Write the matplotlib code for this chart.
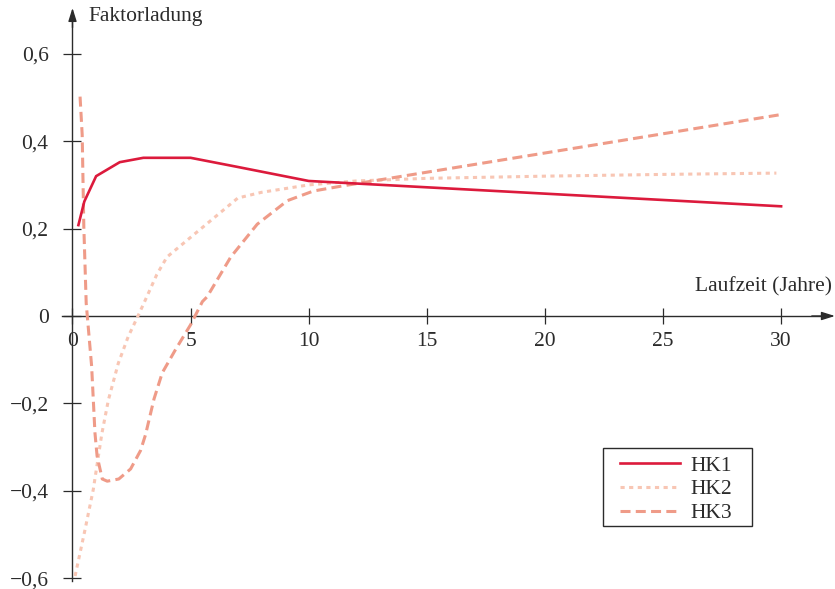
import numpy as np
import matplotlib
matplotlib.use("Agg")
import matplotlib.pyplot as plt
from matplotlib.patches import Rectangle

# ---- data ----
hk1_x = [0.25, 0.5, 1, 2, 3, 5, 7, 10, 30]
hk1_y = [0.208, 0.262, 0.320, 0.352, 0.362, 0.362, 0.341, 0.309, 0.251]

hk2_x = [0.11, 0.53, 0.88, 1.24, 1.52, 1.94, 2.36, 2.79, 3.07, 3.57, 4.0,
         5.0, 6.0, 7.0, 8.0, 10.0, 12.0, 15.0, 20.0, 25.0, 29.8]
hk2_y = [-0.595, -0.489, -0.397, -0.270, -0.192, -0.108, -0.047, 0.002, 0.035,
         0.095, 0.135, 0.180, 0.225, 0.270, 0.283, 0.300, 0.309, 0.315, 0.320,
         0.324, 0.327]

hk3_x = [0.32, 0.41, 0.48, 0.58, 0.81, 0.95, 1.04, 1.26, 1.47, 1.96, 2.46,
         2.88, 3.09, 3.45, 3.8, 4.36, 5.0, 5.5, 5.7, 6.7, 7.82, 9.1, 10.2,
         11.36, 30]
hk3_y = [0.502, 0.415, 0.203, 0.029, -0.115, -0.267, -0.320, -0.373, -0.378,
         -0.373, -0.350, -0.308, -0.272, -0.190, -0.130, -0.077, -0.020, 0.033,
         0.044, 0.135, 0.210, 0.264, 0.286, 0.297, 0.461]

series_labels = ["HK1", "HK2", "HK3"]
x_ticks = [0, 5, 10, 15, 20, 25, 30]
y_ticks = [-0.6, -0.4, -0.2, 0, 0.2, 0.4, 0.6]
x_label = "Laufzeit (Jahre)"
y_label = "Faktorladung"

# ---- style ----
plt.rcParams['font.family'] = ['Liberation Serif', 'DejaVu Serif']
plt.rcParams['lines.scale_dashes'] = False
FS = 15.5
AX_COL = "#2b2b2b"
C1, C2, C3 = "#dc1a3c", "#f8c6b4", "#ef9b88"

W, H = 835, 589
fig = plt.figure(figsize=(W / 100, H / 100), dpi=100)
ax = fig.add_axes([0, 0, 1, 1])

# pixel mapping: x=0 at 72.5px, 23.62 px/yr; y=0 at 316px from top, 437 px/unit
x0px, xs = 72.5, 23.62
y0px, ys = 316.0, 437.0
ax.set_xlim(-x0px / xs, (W - x0px) / xs)
ax.set_ylim(-(H - y0px) / ys, y0px / ys)

ax.plot(hk1_x, hk1_y, color=C1, lw=1.9, solid_joinstyle='miter', label=series_labels[0], zorder=5)
ax.plot(hk2_x, hk2_y, color=C2, lw=2.2, dashes=(3.0, 3.2), label=series_labels[1], zorder=3)
ax.plot(hk3_x, hk3_y, color=C3, lw=2.2, dashes=(7.2, 3.8), label=series_labels[2], zorder=4)

# axes through origin
for s in ['top', 'right']:
    ax.spines[s].set_visible(False)
ax.spines['left'].set_position(('data', 0))
ax.spines['bottom'].set_position(('data', 0))
ax.spines['bottom'].set_bounds(-0.45, 31.8)
ax.spines['left'].set_bounds(-0.607, 0.68)
for s in ['left', 'bottom']:
    ax.spines[s].set_color(AX_COL)
    ax.spines[s].set_linewidth(1.0)

ax.annotate('', xy=(32.28, 0), xytext=(31.3, 0),
            arrowprops=dict(arrowstyle='-|>,head_length=0.8,head_width=0.25',
                            color=AX_COL, lw=1.0, shrinkA=0, shrinkB=0))
ax.annotate('', xy=(0, 0.705), xytext=(0, 0.66),
            arrowprops=dict(arrowstyle='-|>,head_length=0.8,head_width=0.25',
                            color=AX_COL, lw=1.0, shrinkA=0, shrinkB=0))

ax.set_xticks(x_ticks)
ax.set_xticklabels([str(v) for v in x_ticks])
ax.set_yticks(y_ticks)
ax.set_yticklabels([("\u2212" if v < 0 else "") + (f"{abs(v):.1f}".replace(".", ",") if v != 0 else "0")
                    for v in y_ticks])
ax.tick_params(axis='x', direction='inout', length=11, width=0.9, color=AX_COL,
               labelsize=FS, labelcolor=AX_COL, pad=6)
ax.tick_params(axis='y', direction='inout', length=12.5, width=0.9, color=AX_COL,
               labelsize=FS, labelcolor=AX_COL, pad=11)
for lab in ax.get_yticklabels():
    lab.set_clip_on(False)

fig.text(88 / W, 1 - 16 / H, y_label, fontsize=FS, color=AX_COL, ha='left', va='center')
fig.text(832 / W, 1 - 287 / H, x_label, fontsize=FS, color=AX_COL, ha='right', va='center')

# legend
leg = ax.legend(loc='upper left', bbox_to_anchor=(614 / W, 1 - 449 / H),
                bbox_transform=fig.transFigure, frameon=False, fontsize=FS,
                handlelength=2.75, handletextpad=0.5, labelspacing=0.18,
                borderpad=0.3, borderaxespad=0)
for t in leg.get_texts():
    t.set_color(AX_COL)
fig.patches.append(Rectangle((603 / W, 1 - 526 / H), 149 / W, 78 / H,
                             transform=fig.transFigure, fill=False,
                             edgecolor=AX_COL, lw=1.0))

fig.savefig("out.png", dpi=100)
